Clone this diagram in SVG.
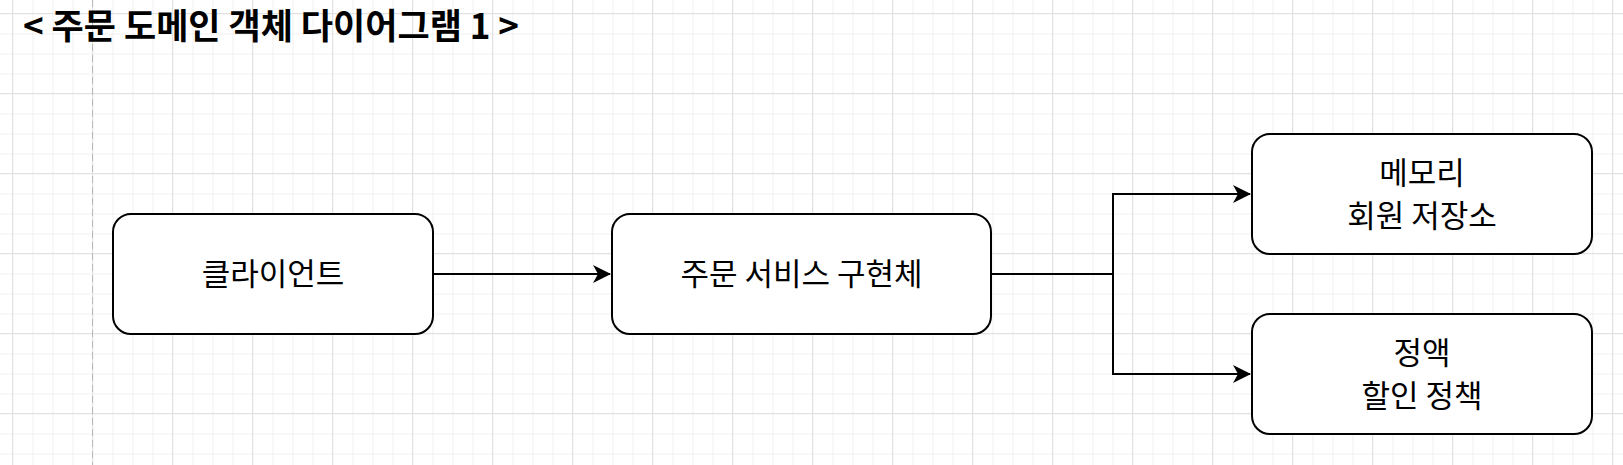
<svg xmlns="http://www.w3.org/2000/svg" width="1623" height="465" viewBox="0 0 1623 465">
  <defs>
    <pattern id="minor" x="12.5" y="13.5" width="20" height="20" patternUnits="userSpaceOnUse">
      <path d="M0.5 0 V20 M0 0.5 H20" stroke="#f0f0f0" stroke-width="1" fill="none"/>
    </pattern>
    <pattern id="major" x="12" y="13" width="80" height="80" patternUnits="userSpaceOnUse">
      <path d="M0.5 0 V80 M0 0.5 H80" stroke="#e2e2e2" stroke-width="1" fill="none"/>
    </pattern>
    <marker id="arrow" viewBox="0 0 18 18" refX="17" refY="9" markerWidth="18" markerHeight="18" markerUnits="userSpaceOnUse" orient="auto">
      <path d="M0 0 L18 9 L0 18 L5 9 Z" fill="#000"/>
    </marker>
    <style>
      .node { fill: #ffffff; stroke: #000000; stroke-width: 2; }
      .label { font-family: "Noto Sans CJK KR", "Noto Sans", sans-serif; font-size: 31px; fill: #000; text-anchor: middle; }
      .title { font-family: "Noto Sans CJK KR", "Noto Sans", sans-serif; font-size: 35px; font-weight: bold; fill: #000; }
      .edge { fill: none; stroke: #000; stroke-width: 2; }
    </style>
  </defs>
  <rect width="1623" height="465" fill="#ffffff"/>
  <rect x="0" y="0" width="1623" height="465" fill="url(#minor)"/>
  <rect x="0" y="0" width="1623" height="465" fill="url(#major)"/>
  <line x1="92.5" y1="0" x2="92.5" y2="465" stroke="#b8b8b8" stroke-width="1" stroke-dasharray="7 4"/>

  <text class="title" x="23" y="39">&lt; 주문 도메인 객체 다이어그램 1 &gt;</text>

  <g id="connectors">
    <path class="edge" d="M433 274 H610" marker-end="url(#arrow)"/>
    <path class="edge" d="M991 274 H1113 V194 H1250" marker-end="url(#arrow)"/>
    <path class="edge" d="M1113 274 V374 H1250" marker-end="url(#arrow)"/>
  </g>

  <g id="client">
    <rect class="node" x="113" y="214" width="320" height="120" rx="18" ry="18"/>
    <text class="label" x="273" y="285">클라이언트</text>
  </g>
  <g id="order-service">
    <rect class="node" x="612" y="214" width="379" height="120" rx="18" ry="18"/>
    <text class="label" x="801.5" y="285">주문 서비스 구현체</text>
  </g>
  <g id="member-repository">
    <rect class="node" x="1252" y="134" width="340" height="120" rx="18" ry="18"/>
    <text class="label" x="1422" y="184">메모리</text>
    <text class="label" x="1422" y="227">회원 저장소</text>
  </g>
  <g id="discount-policy">
    <rect class="node" x="1252" y="314" width="340" height="120" rx="18" ry="18"/>
    <text class="label" x="1422" y="364">정액</text>
    <text class="label" x="1422" y="407">할인 정책</text>
  </g>
</svg>
